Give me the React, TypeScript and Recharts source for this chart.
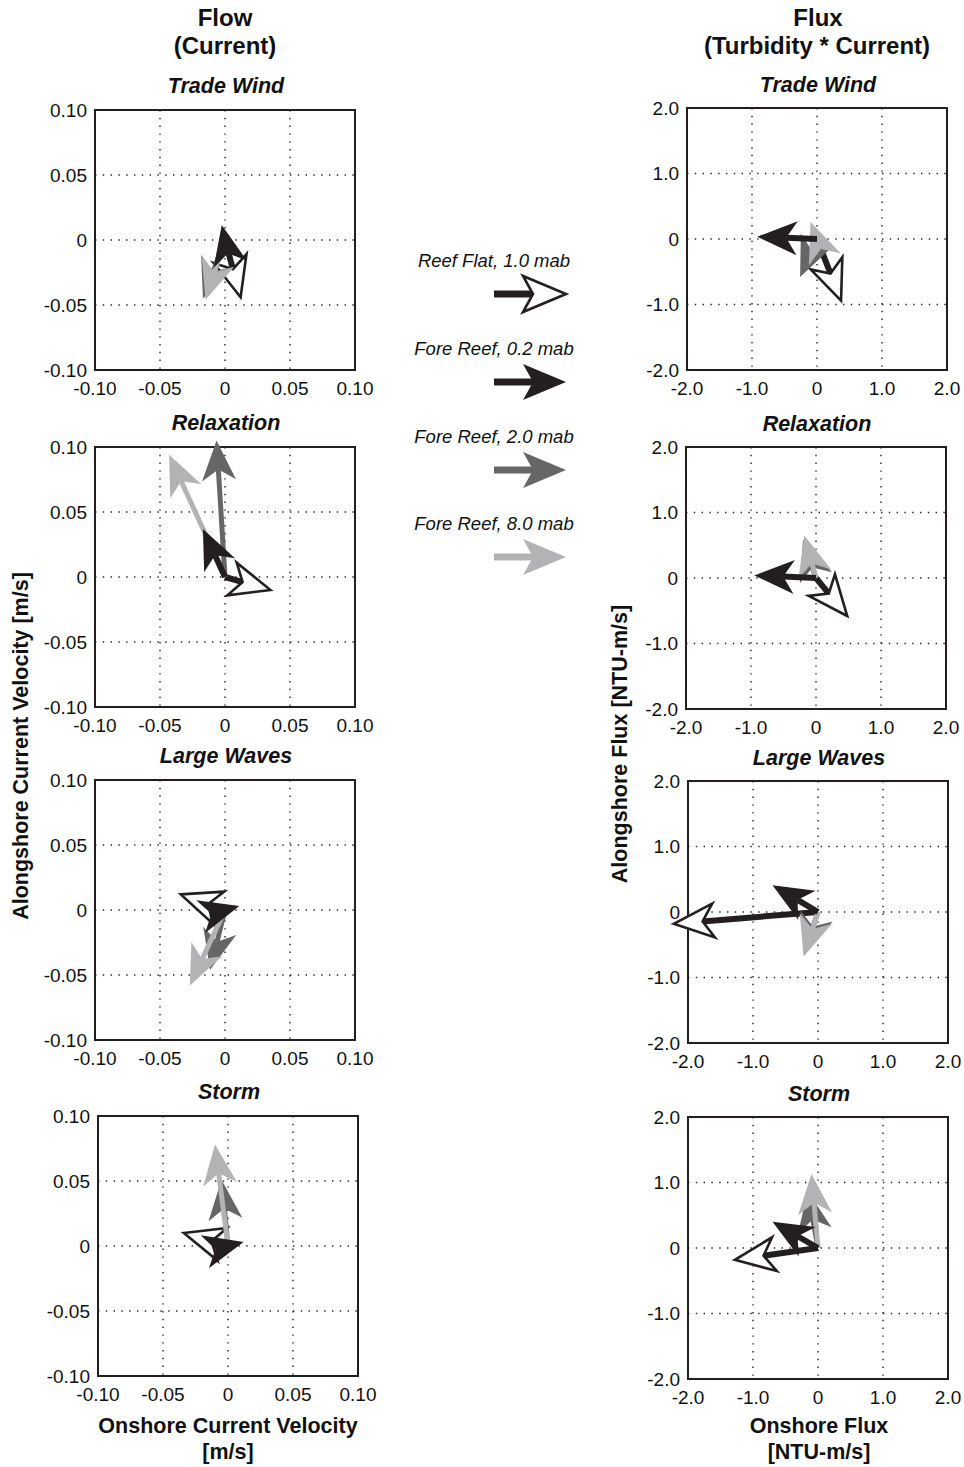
import React from 'react';
import {
  ScatterChart,
  Scatter,
  XAxis,
  YAxis,
  CartesianGrid,
  ReferenceLine,
  ReferenceArea,
} from 'recharts';

const FONT = '"Liberation Sans", Arial, Helvetica, sans-serif';
const INK = '#231f20';

const events = ['Trade Wind', 'Relaxation', 'Large Waves', 'Storm'];
const stations = ['Reef Flat, 1.0 mab', 'Fore Reef, 0.2 mab', 'Fore Reef, 2.0 mab', 'Fore Reef, 8.0 mab'];
const stationFill = ['#ffffff', INK, '#666666', '#b3b3b5'];
// white first, black last
const drawOrder = [0, 2, 3, 1];

const flowTicks = [-0.1, -0.05, 0, 0.05, 0.1];
const fluxTicks = [-2, -1, 0, 1, 2];

// mean current [m/s]; rows = events, columns = stations
const flowU = [
  [0.012, -0.0025, -0.017, -0.015],
  [0.035, -0.017, -0.0065, -0.043],
  [-0.034, 0.011, -0.0115, -0.027],
  [-0.034, 0.012, -0.005, -0.01],
];
const flowV = [
  [-0.044, 0.0115, -0.045, -0.046],
  [-0.01, 0.037, 0.105, 0.094],
  [0.012, 0.003, -0.046, -0.058],
  [0.01, 0.003, 0.051, 0.078],
];

// turbidity flux [NTU-m/s]
const fluxU = [
  [0.37, -0.92, -0.26, -0.1],
  [0.48, -0.95, -0.2, -0.18],
  [-2.22, -0.7, -0.22, -0.22],
  [-1.28, -0.7, -0.16, -0.1],
];
const fluxV = [
  [-0.94, 0.035, -0.58, 0.26],
  [-0.58, 0.04, 0.58, 0.65],
  [-0.18, 0.41, -0.64, -0.68],
  [-0.18, 0.4, 0.87, 1.13],
];

// plot-box top-left corners
const flowBoxes = [[95, 110], [95, 447], [95, 780], [98, 1116]];
const fluxBoxes = [[687, 108], [686, 447], [688, 781], [688, 1117]];

function Arrow({ x1, y1, x2, y2, s, big }: any) {
  const head = big ? 43 : 40;
  const half = big ? 18 : 17;
  const notch = big ? 10 : 11;
  const dx = x2 - x1;
  const dy = y2 - y1;
  const len = Math.hypot(dx, dy) || 1;
  const ux = dx / len;
  const uy = dy / len;
  const px = -uy;
  const py = ux;
  const bx = x2 - ux * head;
  const by = y2 - uy * head;
  const nx = x2 - ux * (head - notch);
  const ny = y2 - uy * (head - notch);
  const pts = `${x2},${y2} ${bx + px * half},${by + py * half} ${nx},${ny} ${bx - px * half},${by - py * half}`;
  const outlined = s === 0;
  const sw = big ? 7 : s >= 2 ? 5 : 6;
  return (
    <g>
      {len > head - notch && (
        <line x1={x1} y1={y1} x2={nx} y2={ny} stroke={outlined ? INK : stationFill[s]} strokeWidth={sw} />
      )}
      <polygon
        points={pts}
        fill={stationFill[s]}
        stroke={outlined ? INK : 'none'}
        strokeWidth={2.6}
        strokeLinejoin="miter"
      />
    </g>
  );
}

function Panel({ box, ticks, digits, us, vs, w, h }: any) {
  const ml = 70;
  const mt = 20;
  const mr = 30;
  const mb = 40;
  const lo = ticks[0];
  const hi = ticks[ticks.length - 1];
  const fmt = (t: number) => (t === 0 ? '0' : t.toFixed(digits));
  const tickStyle = { fontSize: 19, fill: '#111', fontFamily: FONT };
  return (
    <div style={{ position: 'absolute', left: box[0] - ml, top: box[1] - mt }}>
      <ScatterChart width={w + ml + mr} height={h + mt + mb} margin={{ top: mt, right: mr, left: 0, bottom: 0 }}>
        <CartesianGrid stroke="#222" strokeWidth={1.4} strokeDasharray="1.4 6.4" />
        <XAxis
          type="number"
          dataKey="x"
          domain={[lo, hi]}
          ticks={ticks}
          interval={0}
          tickFormatter={fmt}
          axisLine={false}
          tickLine={false}
          tickSize={0}
          tickMargin={12}
          height={mb}
          tick={tickStyle}
        />
        <YAxis
          type="number"
          dataKey="y"
          domain={[lo, hi]}
          ticks={ticks}
          interval={0}
          tickFormatter={fmt}
          axisLine={false}
          tickLine={false}
          tickSize={0}
          tickMargin={8}
          width={ml}
          tick={tickStyle}
        />
        <ReferenceArea x1={lo} x2={hi} y1={lo} y2={hi} fill="none" stroke={INK} strokeWidth={2} />
        <Scatter data={[{ x: 0, y: 0 }]} shape={() => <g />} isAnimationActive={false} />
        {drawOrder.map((s) => (
          <ReferenceLine
            key={s}
            segment={[{ x: 0, y: 0 }, { x: us[s], y: vs[s] }]}
            ifOverflow="visible"
            shape={(p: any) => <Arrow x1={p.x1} y1={p.y1} x2={p.x2} y2={p.y2} s={s} />}
          />
        ))}
      </ScatterChart>
    </div>
  );
}

function Label({ x, y, size, bold, italic, rotate, children }: any) {
  return (
    <div
      style={{
        position: 'absolute',
        left: x,
        top: y,
        transform: `translate(-50%, -50%)${rotate ? ' rotate(-90deg)' : ''}`,
        fontSize: size,
        fontWeight: bold ? 700 : 400,
        fontStyle: italic ? 'italic' : 'normal',
        whiteSpace: 'nowrap',
        lineHeight: 1,
        textAlign: 'center',
      }}
    >
      {children}
    </div>
  );
}

const legendY = [294, 382, 470, 557];

export default function App() {
  return (
    <div
      style={{
        position: 'absolute',
        left: 0,
        top: 0,
        width: 964,
        height: 1467,
        background: '#fff',
        fontFamily: FONT,
        color: '#111',
        overflow: 'hidden',
      }}
    >
      <Label x={225} y={18} size={24} bold>Flow</Label>
      <Label x={225} y={46} size={24} bold>(Current)</Label>
      <Label x={818} y={18} size={24} bold>Flux</Label>
      <Label x={817} y={46} size={24} bold>(Turbidity * Current)</Label>

      {events.map((e, i) => (
        <React.Fragment key={e}>
          <Label x={flowBoxes[i][0] + 131} y={flowBoxes[i][1] - 23} size={21.5} bold italic>{e}</Label>
          <Panel box={flowBoxes[i]} ticks={flowTicks} digits={2} us={flowU[i]} vs={flowV[i]} w={260} h={260} />
          <Label x={fluxBoxes[i][0] + 131} y={fluxBoxes[i][1] - 22} size={21.5} bold italic>{e}</Label>
          <Panel box={fluxBoxes[i]} ticks={fluxTicks} digits={1} us={fluxU[i]} vs={fluxV[i]} w={260} h={262} />
        </React.Fragment>
      ))}

      <Label x={22} y={746} size={21.5} bold rotate>Alongshore Current Velocity [m/s]</Label>
      <Label x={621} y={744} size={21.5} bold rotate>Alongshore Flux [NTU-m/s]</Label>
      <Label x={228} y={1427} size={21.5} bold>Onshore Current Velocity</Label>
      <Label x={228} y={1453} size={21.5} bold>[m/s]</Label>
      <Label x={819} y={1427} size={21.5} bold>Onshore Flux</Label>
      <Label x={819} y={1453} size={21.5} bold>[NTU-m/s]</Label>

      {stations.map((st, i) => (
        <Label key={st} x={494} y={legendY[i] - 33} size={18.5} italic>{st}</Label>
      ))}
      <svg style={{ position: 'absolute', left: 480, top: 260 }} width={100} height={320}>
        {stations.map((st, i) => (
          <Arrow key={st} x1={14} y1={legendY[i] - 260} x2={86} y2={legendY[i] - 260} s={i} big />
        ))}
      </svg>
    </div>
  );
}
